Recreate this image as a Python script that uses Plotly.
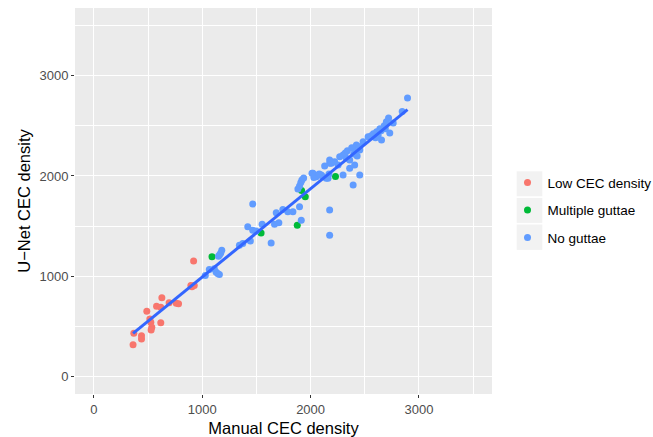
import numpy as np
import plotly.graph_objects as go

# ---- data ----
low_x = [361, 368, 439, 439, 488, 516, 525, 534, 528, 578, 617, 627, 617, 694, 760, 781, 895, 905, 926, 920]
low_y = [317, 430, 407, 374, 651, 574, 541, 491, 464, 701, 691, 785, 535, 735, 730, 725, 908, 895, 908, 1151]

mult_x = [1090, 1543, 1877, 1917, 1951, 2230]
mult_y = [1195, 1431, 1508, 1855, 1792, 1995]

no_x = [1028, 1065, 1111, 1127, 1142, 1158, 1150, 1160, 1170, 1180,
        1343, 1374, 1444, 1420, 1466, 1497, 1466, 1553, 1636,
        1683, 1707, 1667, 1744, 1790, 1837, 1898, 1914,
        1883, 1898, 1910, 1920, 1936,
        2013, 2053, 2099, 2145, 2022, 2068, 2114, 2161, 2030, 2080, 2170,
        2176, 2176,
        2130, 2176, 2222, 2254, 2176, 2192,
        2269, 2300, 2330, 2361, 2361, 2407, 2454, 2393, 2300,
        2393, 2423, 2454, 2485, 2531, 2320, 2340, 2400, 2430, 2450, 2380,
        2560, 2580, 2600, 2610, 2624, 2640, 2650, 2655, 2680, 2690, 2700, 2720, 2731, 2763, 2846, 2895]
no_y = [1008, 1068, 1075, 1041, 1028, 1018, 1200, 1215, 1230, 1258,
        1308, 1325, 1351, 1492, 1458, 1451, 1719, 1518, 1331,
        1632, 1532, 1518, 1666, 1642, 1642, 1692, 1559,
        1870, 1900, 1935, 1960, 1980,
        2026, 1992, 2009, 1976, 2026, 2009, 1992, 1976, 1985, 2020, 2020,
        1659, 1408,
        2099, 2126, 2142, 2109, 2159, 2126,
        2192, 2209, 2176, 2159, 2076, 2109, 2009, 1909, 2009,
        2276, 2309, 2259, 2342, 2392, 2230, 2250, 2220, 2200, 2290, 2280,
        2400, 2420, 2380, 2440, 2408, 2470, 2450, 2359, 2500, 2470, 2540, 2578, 2427, 2527, 2643, 2777]

series_names = ["Low CEC density", "Multiple guttae", "No guttae"]
series_colors = ["#F8766D", "#00BA38", "#619CFF"]

x_ticks = [0, 1000, 2000, 3000]
y_ticks = [0, 1000, 2000, 3000]
axis_range = [-175, 3675]

FONT = "Liberation Sans, Arial, sans-serif"

# ---- figure ----
fig = go.Figure()
groups = [(low_x, low_y), (mult_x, mult_y), (no_x, no_y)]
for (gx, gy), name, col in zip(groups, series_names, series_colors):
    fig.add_trace(go.Scatter(
        x=gx, y=gy, mode="markers", name=name, legendgroup=name,
        marker=dict(color=col, size=7, line=dict(width=0)),
    ))

# linear fit (geom_smooth method = lm)
all_x = np.array(low_x + mult_x + no_x, dtype=float)
all_y = np.array(low_y + mult_y + no_y, dtype=float)
slope, intercept = np.polyfit(all_x, all_y, 1)
fx = np.array([all_x.min(), all_x.max()])
fig.add_trace(go.Scatter(
    x=fx, y=slope * fx + intercept, mode="lines", showlegend=False,
    line=dict(color="#3366FF", width=3), hoverinfo="skip",
))

# legend key backgrounds (ggplot style)
key_boxes = [(171, 196), (197.7, 222.7), (224.3, 249.7)]
plot_l, plot_r, plot_t, plot_b = 75, 492, 7.5, 394
pw, ph = plot_r - plot_l, plot_b - plot_t
for (t, b) in key_boxes:
    fig.add_shape(type="rect", xref="paper", yref="paper",
                  x0=(516.7 - plot_l) / pw, x1=(542.3 - plot_l) / pw,
                  y0=(plot_b - b) / ph, y1=(plot_b - t) / ph,
                  fillcolor="#F2F2F2", line=dict(width=0), layer="below")

axis_common = dict(
    range=axis_range, showline=False, zeroline=False, automargin=False,
    gridcolor="#FFFFFF", gridwidth=1.1,
    ticks="outside", ticklen=3, tickwidth=1, tickcolor="#333333",
    tickfont=dict(family=FONT, size=13, color="#4D4D4D"),
    minor=dict(dtick=500, tick0=500, showgrid=True, gridcolor="#FFFFFF", gridwidth=0.5, ticks=""),
)

fig.update_layout(
    width=653, height=437,
    margin=dict(l=plot_l, r=653 - plot_r, t=plot_t, b=437 - plot_b, autoexpand=False),
    paper_bgcolor="#FFFFFF", plot_bgcolor="#EBEBEB",
    font=dict(family=FONT, color="#000000"),
    xaxis=dict(**axis_common, tickvals=x_ticks, ticktext=[str(v) for v in x_ticks],
               title=dict(text="Manual CEC density", font=dict(size=16.5, color="#000000"), standoff=6)),
    yaxis=dict(**axis_common, tickvals=y_ticks, ticktext=[str(v) for v in y_ticks],
               title=dict(text="U\u2212Net CEC density", font=dict(size=16.5, color="#000000"), standoff=4)),
    legend=dict(x=(507.5 - plot_l) / pw, xanchor="left", y=(plot_b - 210) / ph, yanchor="middle",
                bgcolor="rgba(0,0,0,0)", tracegroupgap=7,
                font=dict(size=13.5, color="#000000", family=FONT)),
    showlegend=True,
)

fig.write_html("out.html", config={"displayModeBar": False},
               post_script="document.body.style.margin='0px';document.body.style.overflow='hidden';")
